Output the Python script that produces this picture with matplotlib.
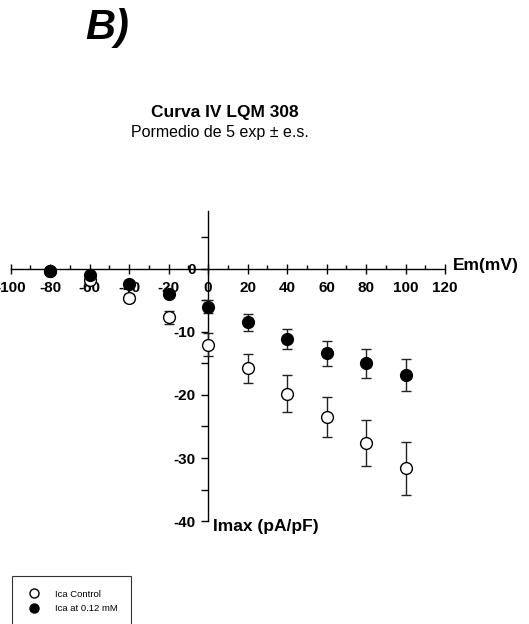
import numpy as np
import matplotlib.pyplot as plt
from matplotlib.ticker import MultipleLocator

plt.rcParams['font.family'] = ['Liberation Sans', 'DejaVu Sans']

# DATOS: potencial de membrana y corriente media

em = np.array([-80, -60, -40, -20, 0, 20, 40, 60, 80, 100])

ica_control = np.array([-0.3, -1.8, -4.6, -7.7, -12.0, -15.8, -19.8, -23.5, -27.6, -31.6])
err_control = np.array([0.2, 0.3, 0.6, 1.0, 1.8, 2.3, 2.9, 3.1, 3.6, 4.2])

ica_lqm = np.array([-0.4, -1.0, -2.4, -4.0, -6.0, -8.5, -11.1, -13.4, -15.0, -16.8])
err_lqm = np.array([0.1, 0.2, 0.3, 0.4, 1.0, 1.3, 1.6, 2.0, 2.3, 2.5])

x_ticks = [-100, -80, -60, -40, -20, 0, 20, 40, 60, 80, 100, 120]
y_ticks = [-40, -30, -20, -10, 0]

# FIGURA

fig = plt.figure(figsize=(5.29, 6.24), dpi=100)

ax = fig.add_axes([0.0199, 0.165, 0.8214, 0.497])

ax.errorbar(
    em, ica_control, yerr=err_control,
    fmt='o', ms=8.5, mfc='white', mec='black', mew=1.0,
    ecolor='#222222', elinewidth=1.0, capsize=3.5, capthick=1.0,
    label='Ica Control', zorder=3
)

ax.errorbar(
    em, ica_lqm, yerr=err_lqm,
    fmt='o', ms=8.5, mfc='black', mec='black', mew=1.0,
    ecolor='#222222', elinewidth=1.0, capsize=3.5, capthick=1.0,
    label='Ica at 0.12 mM', zorder=4
)

# EJES CRUZADOS EN EL ORIGEN

ax.set_xlim(-100, 120)
ax.set_ylim(-40, 9.2)

ax.spines['left'].set_position(('data', 0))
ax.spines['bottom'].set_position(('data', 0))
ax.spines['top'].set_visible(False)
ax.spines['right'].set_visible(False)
ax.spines['left'].set_linewidth(1.0)
ax.spines['bottom'].set_linewidth(1.0)

ax.set_xticks(x_ticks)
ax.set_xticklabels([str(v) for v in x_ticks])
ax.xaxis.set_minor_locator(MultipleLocator(10))
ax.set_yticks(y_ticks)
ax.set_yticklabels([str(v) for v in y_ticks])
ax.yaxis.set_minor_locator(MultipleLocator(5))

ax.tick_params(axis='x', which='major', direction='inout', length=7, width=1.0, pad=5)
ax.tick_params(axis='x', which='minor', direction='in', length=3, width=1.0)
ax.tick_params(axis='y', which='major', direction='out', length=5, width=1.0, pad=4)
ax.tick_params(axis='y', which='minor', direction='out', length=5, width=1.0)

for lab in ax.get_xticklabels() + ax.get_yticklabels():
    lab.set_fontweight('bold')
    lab.set_fontsize(11)

ax.set_facecolor('none')

# ETIQUETAS DE LOS EJES

ax.text(124, 0.5, 'Em(mV)', fontsize=12.5, fontweight='bold', ha='left', va='center')
ax.text(2.5, -40.8, 'Imax (pA/pF)', fontsize=12.5, fontweight='bold', ha='left', va='center')

# TITULOS

fig.text(85 / 529, 1 - 28 / 624, 'B)', fontsize=30, fontweight='bold', fontstyle='italic',
         ha='left', va='center')
fig.text(225 / 529, 1 - 113 / 624, 'Curva IV LQM 308', fontsize=12.5, fontweight='bold',
         ha='center', va='center')
fig.text(220 / 529, 1 - 133 / 624, 'Pormedio de 5 exp ± e.s.', fontsize=11.5,
         ha='center', va='center')

# LEYENDA (la parte inferior del recuadro queda fuera de la figura)

handles, labels = ax.get_legend_handles_labels()
handles = [h[0] for h in handles]
leg = fig.legend(
    handles, labels,
    loc='upper left', bbox_to_anchor=(12 / 529, 1 - 576 / 624),
    fontsize=6.8, frameon=True, fancybox=False, edgecolor='black',
    borderpad=1.45, handlelength=1.8, handletextpad=1.3, labelspacing=0.6,
    borderaxespad=0
)
leg.get_frame().set_linewidth(0.8)
for h in leg.legend_handles:
    h.set_markersize(6.5)

fig.savefig('out.png', dpi=100)
